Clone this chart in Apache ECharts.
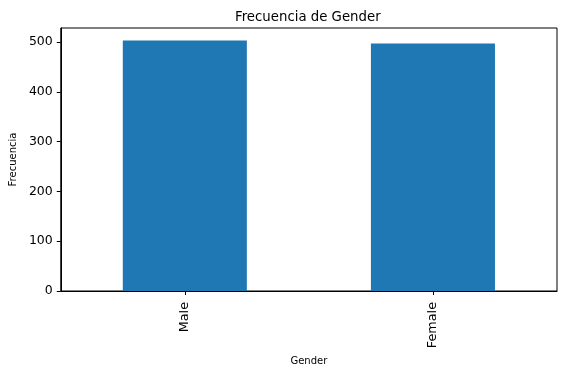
<!DOCTYPE html>
<html>
<head>
<meta charset="utf-8">
<script src="https://cdn.jsdelivr.net/npm/echarts@6/dist/echarts.min.js"></script>
<style>
html,body{margin:0;padding:0;background:#fff;}
#chart{width:566px;height:374px;}
</style>
</head>
<body>
<div id="chart"></div>
<script>
const categories = ["Male", "Female"];
const counts = [503, 497];
const yTicks = [0, 100, 200, 300, 400, 500];
const titleText = "Frecuencia de Gender";
const xName = "Gender";
const yName = "Frecuencia";

const chart = echarts.init(document.getElementById('chart'), null, {renderer: 'canvas'});
const font = 'DejaVu Sans';
chart.setOption({
  animation: false,
  backgroundColor: '#ffffff',
  title: {
    text: titleText,
    left: 230, top: 6,
    textStyle: {fontFamily: font, fontSize: 13.3, fontWeight: 'normal', color: '#000'}
  },
  grid: {left: 60, right: 9, top: 28, bottom: 83, show: true, borderColor: '#000', borderWidth: 1, backgroundColor: 'transparent'},
  xAxis: {
    type: 'category',
    data: categories,
    name: xName,
    nameLocation: 'middle',
    nameGap: 65,
    nameTextStyle: {fontFamily: font, fontSize: 10, color: '#000'},
    axisLine: {show: true, lineStyle: {color: '#000', width: 1}},
    axisTick: {show: true, alignWithLabel: true, length: 4, lineStyle: {color: '#000'}},
    axisLabel: {rotate: 90, fontFamily: font, fontSize: 12.8, color: '#000', margin: 11}
  },
  yAxis: {
    type: 'value',
    min: 0,
    max: 528.15,
    interval: 100,
    name: yName,
    nameLocation: 'middle',
    nameGap: 41,
    nameTextStyle: {fontFamily: font, fontSize: 10, color: '#000'},
    axisLine: {show: true, lineStyle: {color: '#000', width: 1}},
    axisTick: {show: true, length: 4, lineStyle: {color: '#000'}},
    splitLine: {show: false},
    axisLabel: {
      fontFamily: font, fontSize: 12.5, color: '#000', margin: 8,
      showMaxLabel: false,
      formatter: v => yTicks.includes(v) ? String(v) : ''
    }
  },
  series: [{
    type: 'bar',
    data: counts,
    barWidth: '50%',
    itemStyle: {color: '#1f77b4'}
  }]
});
</script>
</body>
</html>
